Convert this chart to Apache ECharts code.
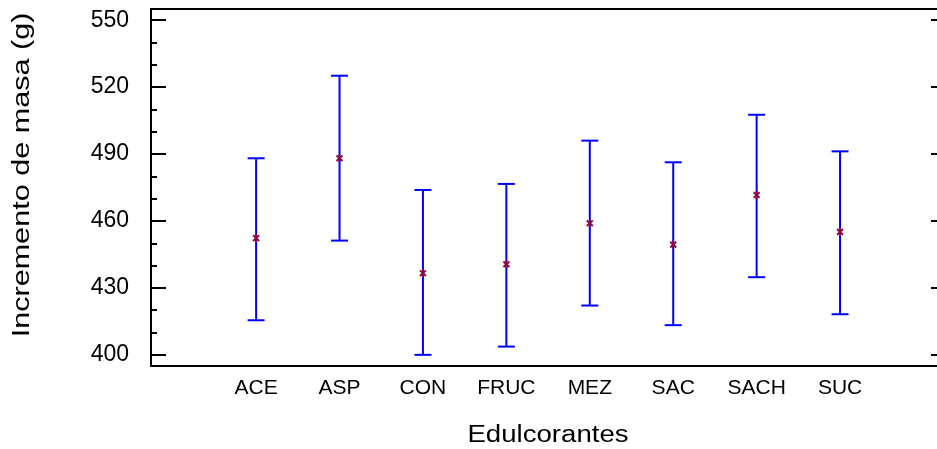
<!DOCTYPE html>
<html>
<head>
<meta charset="utf-8">
<script src="https://cdn.jsdelivr.net/npm/echarts@6/dist/echarts.min.js"></script>
<style>html,body{margin:0;padding:0;background:#fff;overflow:hidden;width:937px;height:449px;}#c{width:946px;height:449px;}</style>
</head>
<body>
<div id="c"></div>
<script>
var categories = ['ACE', 'ASP', 'CON', 'FRUC', 'MEZ', 'SAC', 'SACH', 'SUC'];
var means = [452.3, 488.1, 436.6, 440.6, 459.0, 449.4, 471.6, 455.1];
var lower = [415.5, 451.2, 400.0, 403.7, 422.1, 413.3, 434.8, 418.2];
var upper = [488.1, 525.1, 473.9, 476.6, 496.0, 486.3, 507.6, 491.2];
var majorTicks = [400, 430, 460, 490, 520, 550];
var minorTicks = [410, 420, 440, 450, 470, 480, 500, 510, 530, 540];

var FONT = "'Liberation Sans', Arial, sans-serif";
var errData = categories.map(function (c, i) { return [i, lower[i], upper[i]]; });
var meanData = categories.map(function (c, i) { return [i, means[i]]; });

var chart = echarts.init(document.getElementById('c'), null, {renderer: 'canvas', width: 946, height: 449});
chart.setOption({
  animation: false,
  backgroundColor: '#fff',
  grid: {left: 151, right: 0, top: 9, bottom: 83, containLabel: false},
  xAxis: [{
    type: 'value', min: -1.26, max: 8.27, position: 'bottom',
    axisLine: {show: true, onZero: false, lineStyle: {color: '#000', width: 2}},
    axisTick: {show: false},
    splitLine: {show: false},
    axisLabel: {
      customValues: categories.map(function (c, i) { return i; }),
      formatter: function (v) { return categories[Math.round(v)] || ''; },
      color: '#000', fontFamily: FONT, fontSize: 21, margin: 12
    }
  }, {
    type: 'value', min: -1.26, max: 8.27, position: 'top',
    axisLine: {show: true, onZero: false, lineStyle: {color: '#000', width: 2}},
    axisTick: {show: false}, axisLabel: {show: false}, splitLine: {show: false}
  }],
  yAxis: [{
    type: 'value', min: 395, max: 555, position: 'left',
    axisLine: {show: true, onZero: false, lineStyle: {color: '#000', width: 2}},
    axisTick: {show: true, inside: true, length: 15, customValues: majorTicks, lineStyle: {color: '#000', width: 2}},
    axisLabel: {customValues: majorTicks, color: '#000', fontFamily: FONT, fontSize: 23, margin: 22},
    splitLine: {show: false}
  }, {
    type: 'value', min: 395, max: 555, position: 'left', offset: 0,
    axisLine: {show: false, onZero: false},
    axisTick: {show: true, inside: true, length: 6, customValues: minorTicks, lineStyle: {color: '#000', width: 2}},
    axisLabel: {show: false}, splitLine: {show: false}
  }, {
    type: 'value', min: 395, max: 555, position: 'right', offset: 0,
    axisLine: {show: true, onZero: false, lineStyle: {color: '#000', width: 2}},
    axisTick: {show: true, inside: true, length: 15, customValues: majorTicks, lineStyle: {color: '#000', width: 2}},
    axisLabel: {show: false}, splitLine: {show: false}
  }],
  graphic: [{
    type: 'text', x: 23, y: 175, rotation: Math.PI / 2, scaleX: 1.33, scaleY: 1,
    style: {text: 'Incremento de masa (g)', fill: '#000', font: '23px ' + FONT, align: 'center', verticalAlign: 'middle'}
  }, {
    type: 'text', x: 548, y: 436, scaleX: 1.2, scaleY: 1,
    style: {text: 'Edulcorantes', fill: '#000', font: '23px ' + FONT, align: 'center', verticalAlign: 'middle'}
  }],
  series: [{
    type: 'custom',
    xAxisIndex: 0, yAxisIndex: 0,
    data: errData,
    renderItem: function (params, api) {
      var x = api.value(0);
      var lo = api.coord([x, api.value(1)]);
      var hi = api.coord([x, api.value(2)]);
      var hw = 8.5;
      var st = {stroke: '#0000ff', lineWidth: 2};
      return {type: 'group', children: [
        {type: 'line', shape: {x1: lo[0], y1: lo[1], x2: hi[0], y2: hi[1]}, style: st},
        {type: 'line', shape: {x1: hi[0] - hw, y1: hi[1], x2: hi[0] + hw, y2: hi[1]}, style: st},
        {type: 'line', shape: {x1: lo[0] - hw, y1: lo[1], x2: lo[0] + hw, y2: lo[1]}, style: st}
      ]};
    },
    z: 2
  }, {
    type: 'custom',
    xAxisIndex: 0, yAxisIndex: 0,
    data: meanData,
    renderItem: function (params, api) {
      var p = api.coord([api.value(0), api.value(1)]);
      var r = 4;
      var st = {stroke: '#8b0a4a', lineWidth: 2};
      return {type: 'group', children: [
        {type: 'line', shape: {x1: p[0], y1: p[1] - r, x2: p[0], y2: p[1] + r}, style: st},
        {type: 'line', shape: {x1: p[0] - r * 0.75, y1: p[1] - r * 0.7, x2: p[0] + r * 0.75, y2: p[1] + r * 0.7}, style: st},
        {type: 'line', shape: {x1: p[0] - r * 0.75, y1: p[1] + r * 0.7, x2: p[0] + r * 0.75, y2: p[1] - r * 0.7}, style: st}
      ]};
    },
    z: 3
  }]
});
</script>
</body>
</html>
